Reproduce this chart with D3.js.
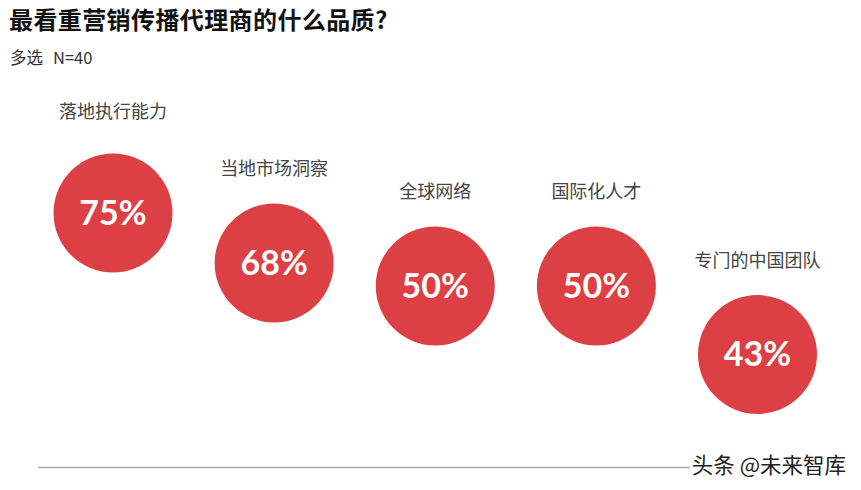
<!DOCTYPE html>
<html>
<head>
<meta charset="utf-8">
<script src="https://cdn.jsdelivr.net/npm/d3@7"></script>
<style>
  body { margin: 0; background: #fff; }
  svg { display: block; font-family: "Noto Sans CJK SC", "Noto Sans", sans-serif; }
</style>
</head>
<body>
<div id="chart-area"></div>
<script>
// data
var categories = ['落地执行能力', '当地市场洞察', '全球网络', '国际化人才', '专门的中国团队'];
var values = [75, 68, 50, 50, 43];
var valueLabels = ['75%', '68%', '50%', '50%', '43%'];

var width = 861;
var height = 490;

var svg = d3.select('#chart-area')
  .append('svg')
  .attr('width', width)
  .attr('height', height);

// title
svg.append('text')
  .attr('x', 9)
  .attr('y', 29)
  .attr('font-size', '24px')
  .attr('font-weight', 'bold')
  .attr('fill', '#111')
  .attr('letter-spacing', '0.4px')
  .text('最看重营销传播代理商的什么品质?');

// subtitle, two parts with a wide gap
var sub = svg.append('text')
  .attr('y', 64)
  .attr('font-size', '16.5px')
  .attr('fill', '#333');
sub.append('tspan').attr('x', 10).text('多选');
sub.append('tspan').attr('x', 53).text('N=40');

var x = d3.scalePoint()
  .domain(categories)
  .range([113, 757.5]);

// bubbles step down with the share
var y = d3.scaleLinear()
  .domain([43, 50, 68, 75])
  .range([354.5, 286, 263, 213]);

var r = 59.5;

var data = categories.map(function (c, i) {
  return {name: c, value: values[i], label: valueLabels[i]};
});

var g = svg.selectAll('.item')
  .data(data)
  .enter()
  .append('g')
  .attr('class', 'item')
  .attr('transform', function (d) {
    return 'translate(' + x(d.name) + ', ' + y(d.value) + ')';
  });

g.append('circle')
  .attr('r', r)
  .attr('fill', '#dd4044');

g.append('text')
  .attr('y', 0)
  .attr('dy', '0.35em')
  .attr('text-anchor', 'middle')
  .attr('font-family', 'Lato, "Open Sans", sans-serif')
  .attr('font-weight', 'bold')
  .attr('font-size', '34px')
  .attr('fill', '#fff')
  .text(function (d) { return d.label; });

g.append('text')
  .attr('y', function (d, i) { return i === 0 ? -101 : -94; })
  .attr('dy', '0.35em')
  .attr('text-anchor', 'middle')
  .attr('font-size', '18px')
  .attr('fill', '#444')
  .text(function (d) { return d.name; });

// baseline
svg.append('line')
  .attr('x1', 38)
  .attr('x2', 690)
  .attr('y1', 467.5)
  .attr('y2', 467.5)
  .attr('stroke', '#aaa')
  .attr('stroke-width', 1.5);

// watermark
svg.append('text')
  .attr('x', 846)
  .attr('y', 473)
  .attr('text-anchor', 'end')
  .attr('font-size', '21.5px')
  .attr('fill', '#222')
  .attr('stroke', '#fff')
  .attr('stroke-width', 0.6)
  .attr('paint-order', 'stroke')
  .text('头条 @未来智库');
</script>
</body>
</html>
